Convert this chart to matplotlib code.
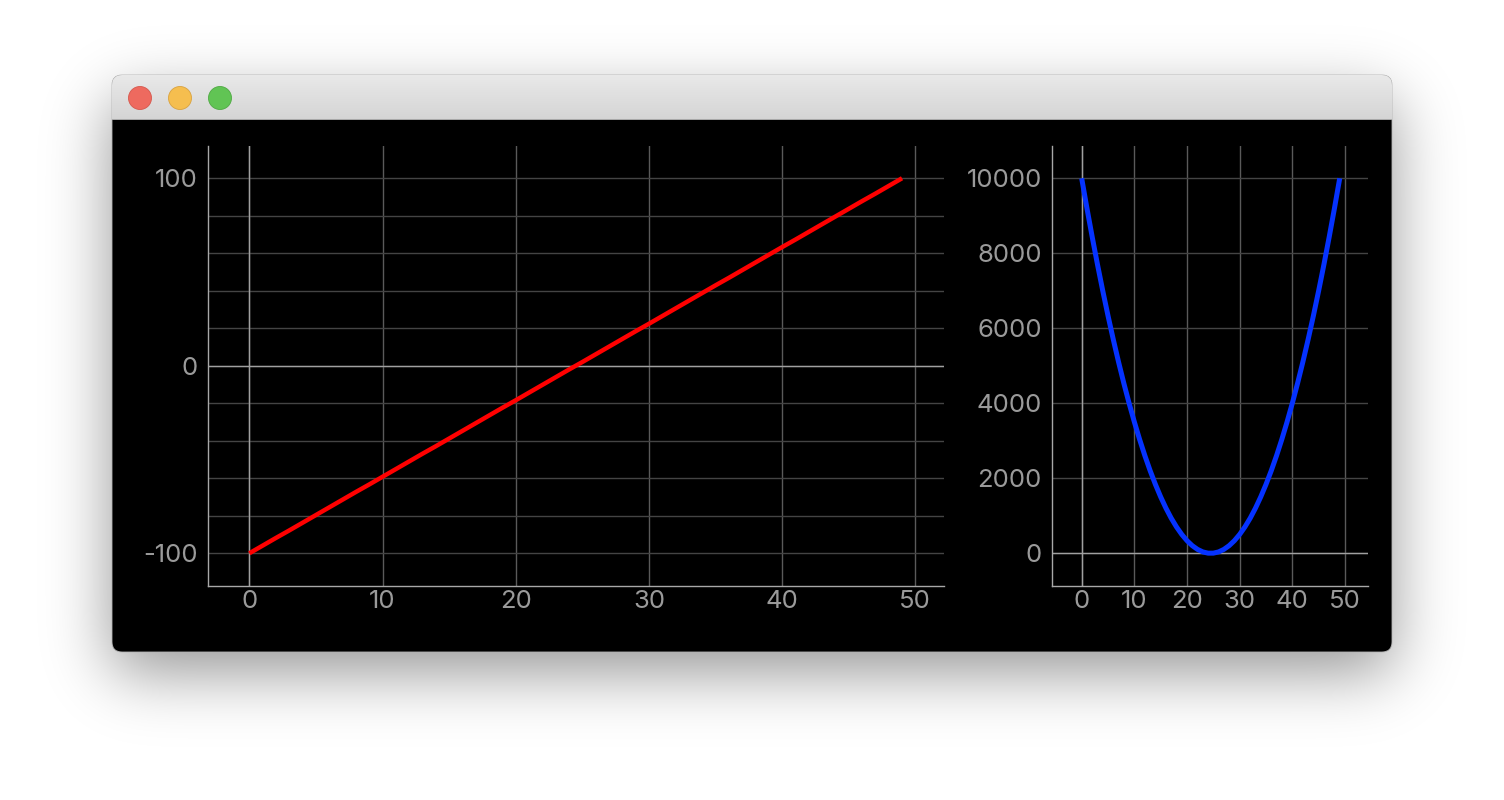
import math
import numpy as np
import matplotlib
matplotlib.use("Agg")
import matplotlib.pyplot as plt
from matplotlib.patches import FancyBboxPatch, Circle, Rectangle

# Data
# -----------------------------------------------------------------------------

line_values = [-100.0, -95.9, -91.8, -87.8, -83.7, -79.6, -75.5, -71.4, -67.3, -63.3,
               -59.2, -55.1, -51.0, -46.9, -42.9, -38.8, -34.7, -30.6, -26.5, -22.4,
               -18.4, -14.3, -10.2, -6.1, -2.0, 2.0, 6.1, 10.2, 14.3, 18.4,
               22.4, 26.5, 30.6, 34.7, 38.8, 42.9, 46.9, 51.0, 55.1, 59.2,
               63.3, 67.3, 71.4, 75.5, 79.6, 83.7, 87.8, 91.8, 95.9, 100.0]

square_values = [10000, 9200, 8434, 7701, 7001, 6335, 5702, 5102, 4536, 4003,
                 3503, 3036, 2603, 2203, 1837, 1504, 1204, 937, 704, 504,
                 337, 204, 104, 37, 4, 4, 37, 104, 204, 337,
                 504, 704, 937, 1204, 1504, 1837, 2203, 2603, 3036, 3503,
                 4003, 4536, 5102, 5702, 6335, 7001, 7701, 8434, 9200, 10000]

x_ticks = [0, 10, 20, 30, 40, 50]
left_yticks = [-100, 0, 100]
right_yticks = [0, 2000, 4000, 6000, 8000, 10000]

W, H = 1504, 800
text_grey = "#9a9a9a"
plt.rcParams["font.family"] = ["Inter", "DejaVu Sans"]
plt.rcParams["axes.unicode_minus"] = False

fig = plt.figure(figsize=(W / 100, H / 100), dpi=100, facecolor="white")

# Window chrome (background axes in pixel coordinates)
# -----------------------------------------------------------------------------
bg = fig.add_axes([0, 0, 1, 1])
bg.set_xlim(0, W)
bg.set_ylim(H, 0)
bg.axis("off")

# soft drop shadow: gaussian blurred box, separable
erf = np.frompyfunc(math.erf, 1, 1)
sig = 32.0
px = np.arange(W) + 0.5
py = np.arange(H) + 0.5
fx = 0.5 * (erf((px - 112) / (sig * 1.414)).astype(float) - erf((px - 1392) / (sig * 1.414)).astype(float))
fy = 0.5 * (erf((py - 100) / (sig * 1.414)).astype(float) - erf((py - 672) / (sig * 1.414)).astype(float))
shadow = np.zeros((H, W, 4))
shadow[..., 3] = 0.42 * np.outer(fy, fx)
bg.imshow(shadow, extent=(0, W, H, 0), zorder=0, interpolation="bilinear")

win = FancyBboxPatch((112, 75), 1280, 577, boxstyle="round,pad=0,rounding_size=10",
                     facecolor="black", edgecolor="#b5b5b5", lw=0.6, zorder=1)
bg.add_patch(win)

grad = np.linspace(0.915, 0.835, 44).reshape(-1, 1)
grad = np.repeat(grad[:, :, None], 3, axis=2)
title = bg.imshow(grad, extent=(112, 1392, 119.5, 75), zorder=2, aspect="auto",
                  interpolation="bilinear")
title.set_clip_path(win)
bg.add_patch(Rectangle((112, 119), 1280, 1, facecolor="#a8a8a8", edgecolor="none", zorder=3))
bg.set_xlim(0, W)
bg.set_ylim(H, 0)

for cx, fc, ec in [(140, "#ee6a5f", "#d5584d"), (180, "#f5be4f", "#d9a23f"), (220, "#61c454", "#4fa943")]:
    bg.add_patch(Circle((cx, 98), 11.5, facecolor=fc, edgecolor=ec, lw=0.6, zorder=4))


# Plot axes
# -----------------------------------------------------------------------------

def style_axes(ax, yticks, ylim, xlim, minor_y):
    ax.set_facecolor("black")
    ax.set_xlim(*xlim)
    ax.set_ylim(*ylim)
    ax.set_xticks(x_ticks)
    ax.set_yticks(yticks)
    if minor_y is not None:
        ax.set_yticks(minor_y, minor=True)
    for side in ["top", "right"]:
        ax.spines[side].set_visible(False)
    for side in ["left", "bottom"]:
        ax.spines[side].set_color("#a8a8a8")
        ax.spines[side].set_linewidth(1.0)
    ax.tick_params(axis="both", which="both", length=0, labelcolor=text_grey, labelsize=18.5)
    ax.tick_params(axis="y", pad=7.5)
    ax.tick_params(axis="x", pad=3)
    ax.grid(True, axis="x", which="major", color="#5a5a5a", lw=1.0)
    ax.grid(True, axis="y", which="both", color="#444444", lw=1.0)
    ax.axhline(0, color="#a0a0a0", lw=1.0, zorder=1.5)
    ax.axvline(0, color="#a0a0a0", lw=1.0, zorder=1.5)
    ax.set_axisbelow(True)


xs = np.arange(len(line_values))

ax1 = fig.add_axes([208.3 / W, 1 - 586.3 / H, 735.7 / W, 440.3 / H])
style_axes(ax1, left_yticks, (-117.6, 117.2), (-3.08, 52.15), [-80, -60, -40, -20, 20, 40, 60, 80])
ax1.plot(xs, line_values, color="#ff0000", lw=3.2, solid_capstyle="butt", zorder=3)

ax2 = fig.add_axes([1052.3 / W, 1 - 586.3 / H, 315.7 / W, 440.3 / H])
style_axes(ax2, right_yticks, (-880, 10861), (-5.58, 54.37), None)
ax2.plot(xs, square_values, color="#0532ff", lw=3.6, solid_capstyle="butt", zorder=3)

fig.savefig("out.png", dpi=100, facecolor="white")
